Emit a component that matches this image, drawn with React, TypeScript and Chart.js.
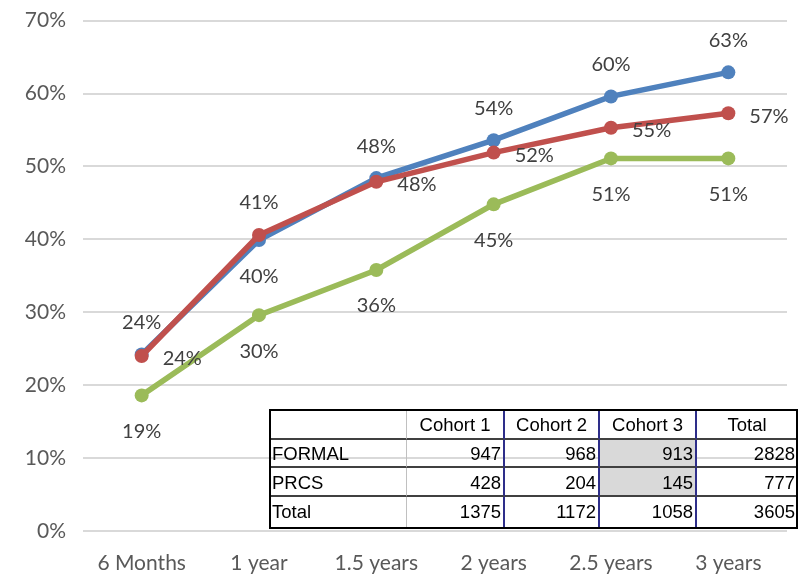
import React, { useEffect, useRef } from "react";
import { Chart, registerables } from "chart.js";

Chart.register(...registerables);

const categories = ["6 Months", "1 year", "1.5 years", "2 years", "2.5 years", "3 years"];
const blueValues = [24.2, 39.9, 48.4, 53.6, 59.6, 62.9];
const redValues = [24.0, 40.6, 47.9, 51.9, 55.3, 57.3];
const greenValues = [18.6, 29.6, 35.8, 44.8, 51.1, 51.1];
const blueLabelPos = ["top", "bottom", "top", "top", "top", "top"];
const redLabelPos = ["right", "top", "right", "right", "right", "right"];
const greenLabelPos = ["bottom", "bottom", "bottom", "bottom", "bottom", "bottom"];

const tableHeader = ["", "Cohort 1", "Cohort 2", "Cohort 3", "Total"];
const tableRowNames = ["FORMAL", "PRCS", "Total"];
const tableValues = [
  [947, 968, 913, 2828],
  [428, 204, 145, 777],
  [1375, 1172, 1058, 3605],
];

const FONT = "Lato, 'Open Sans', sans-serif";

const labelPlugin = {
  id: "pointLabels",
  afterDatasetsDraw(chart: any) {
    const ctx = chart.ctx;
    const posSets = [blueLabelPos, redLabelPos, greenLabelPos];
    ctx.save();
    ctx.font = "20px " + FONT;
    ctx.fillStyle = "#404040";
    ctx.textBaseline = "middle";
    chart.data.datasets.forEach((ds: any, di: number) => {
      const meta = chart.getDatasetMeta(di);
      meta.data.forEach((pt: any, i: number) => {
        const txt = Math.round(ds.data[i]) + "%";
        const pos = posSets[di][i];
        let x = pt.x;
        let y = pt.y;
        ctx.textAlign = "center";
        if (pos === "top") y -= 32;
        else if (pos === "bottom") y += 36;
        else if (pos === "right") {
          ctx.textAlign = "left";
          x += 21;
          y += 3;
        }
        ctx.fillText(txt, x, y);
      });
    });
    ctx.restore();
  },
};

export default function App() {
  const ref = useRef<HTMLCanvasElement>(null);
  useEffect(() => {
    const orders = [1, 0, 2];
    const chart = new Chart(ref.current!, {
      type: "line",
      data: {
        labels: categories,
        datasets: [
          { data: blueValues, borderColor: "#4f81bd", backgroundColor: "#4f81bd" },
          { data: redValues, borderColor: "#c0504d", backgroundColor: "#c0504d" },
          { data: greenValues, borderColor: "#9bbb59", backgroundColor: "#9bbb59" },
        ].map((d, i) => ({
          ...d,
          order: orders[i],
          borderWidth: 5.5,
          pointRadius: 7,
          pointHoverRadius: 7,
          pointBorderWidth: 0,
          tension: 0,
          fill: false,
        })),
      },
      options: {
        responsive: false,
        animation: false,
        layout: { padding: { top: 12, right: 14, left: 0, bottom: 0 } },
        plugins: { legend: { display: false }, tooltip: { enabled: false } },
        scales: {
          x: {
            offset: true,
            grid: { display: false },
            border: { display: false },
            ticks: {
              color: "#595959",
              font: { size: 21, family: FONT },
              padding: 12,
              maxRotation: 0,
            },
            afterFit: (s: any) => {
              s.height = 45;
            },
          },
          y: {
            min: 0,
            max: 70,
            grid: { color: "#d9d9d9", lineWidth: 2, drawTicks: false },
            border: { display: false },
            ticks: {
              stepSize: 10,
              color: "#595959",
              font: { size: 21, family: FONT },
              padding: 17,
              callback: (v: any) => v + "%",
            },
            afterFit: (s: any) => {
              s.width = 83;
            },
          },
        },
      },
      plugins: [labelPlugin],
    });
    return () => chart.destroy();
  }, []);

  const colLefts = [270, 407, 505, 600, 697, 797];
  const rowTops = [410, 440, 468, 497, 527];
  const cells: any[] = [];
  const font = "Arial, 'Liberation Sans', sans-serif";
  for (let r = 0; r < 4; r++) {
    for (let c = 0; c < 5; c++) {
      let text: any = "";
      let align: any = "right";
      if (r === 0) {
        text = tableHeader[c];
        align = "center";
      } else if (c === 0) {
        text = tableRowNames[r - 1];
        align = "left";
      } else {
        text = tableValues[r - 1][c - 1];
      }
      const grey = c === 3 && (r === 1 || r === 2);
      cells.push(
        <div
          key={r + "-" + c}
          style={{
            position: "absolute",
            left: colLefts[c],
            top: rowTops[r],
            width: colLefts[c + 1] - colLefts[c],
            height: rowTops[r + 1] - rowTops[r],
            background: grey ? "#d9d9d9" : "transparent",
            boxSizing: "border-box",
            borderRight: c < 4 ? (c === 0 ? "1px solid #c0c0c0" : "2px solid #2e2e8a") : "none",
            borderBottom: r < 3 ? "2px solid #404040" : "none",
            font: "18.5px " + font,
            color: "#000",
            textAlign: align,
            lineHeight: rowTops[r + 1] - rowTops[r] + "px",
            padding: "0 2px",
            whiteSpace: "nowrap",
          }}
        >
          {text}
        </div>
      );
    }
  }

  return (
    <div style={{ position: "fixed", left: 0, top: 0, width: 801, height: 576, background: "#fff", overflow: "hidden" }}>
      <canvas ref={ref} width={801} height={585} style={{ position: "absolute", left: 0, top: -9 }} />
      {cells}
      <div
        style={{
          position: "absolute",
          left: 269,
          top: 409,
          width: 529,
          height: 120,
          border: "2px solid #000",
          boxSizing: "border-box",
        }}
      />
    </div>
  );
}
